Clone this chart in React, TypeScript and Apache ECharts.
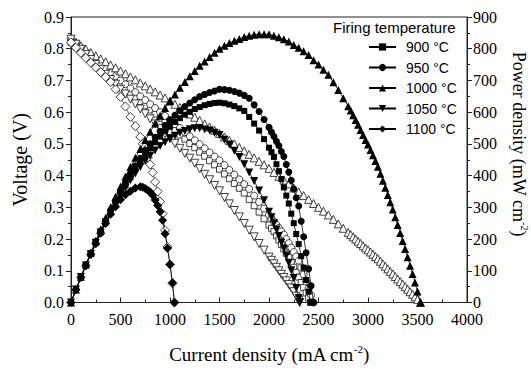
import React, { useEffect, useRef } from 'react';
import * as echarts from 'echarts';

// Current density (mA cm-2) and cell voltage (V), per firing temperature
const current900 = [
  0, 50, 100, 150, 200, 250, 300, 350, 400, 450,
  500, 550, 600, 650, 700, 750, 800, 850, 900, 950,
  1000, 1050, 1100, 1150, 1200, 1250, 1300, 1350, 1400, 1450,
  1500, 1550, 1600, 1650, 1700, 1750, 1800, 1850, 1900, 1950,
  2000, 2025, 2050, 2075, 2100, 2125, 2150, 2175, 2200, 2225,
  2250, 2275, 2300, 2325, 2350, 2375, 2400, 2420,
];
const voltage900 = [
  0.820, 0.806, 0.792, 0.778, 0.764, 0.750, 0.737, 0.724, 0.711, 0.698,
  0.685, 0.672, 0.659, 0.646, 0.633, 0.620, 0.607, 0.594, 0.581, 0.568,
  0.555, 0.542, 0.528, 0.515, 0.501, 0.488, 0.474, 0.461, 0.447, 0.434,
  0.420, 0.405, 0.390, 0.375, 0.360, 0.345, 0.325, 0.305, 0.285, 0.264,
  0.244, 0.234, 0.224, 0.210, 0.197, 0.183, 0.169, 0.155, 0.142, 0.126,
  0.111, 0.095, 0.080, 0.063, 0.047, 0.030, 0.014, 0.000,
];

const current950 = [
  0, 50, 100, 150, 200, 250, 300, 350, 400, 450,
  500, 550, 600, 650, 700, 750, 800, 850, 900, 950,
  1000, 1050, 1100, 1150, 1200, 1250, 1300, 1350, 1400, 1450,
  1500, 1550, 1600, 1650, 1700, 1750, 1800, 1850, 1900, 1950,
  2000, 2025, 2050, 2075, 2100, 2125, 2150, 2175, 2200, 2225,
  2250, 2275, 2300, 2325, 2350, 2375, 2400, 2425, 2450,
];
const voltage950 = [
  0.830, 0.817, 0.803, 0.790, 0.776, 0.763, 0.750, 0.738, 0.725, 0.713,
  0.700, 0.688, 0.675, 0.663, 0.650, 0.638, 0.625, 0.613, 0.600, 0.588,
  0.575, 0.562, 0.550, 0.537, 0.524, 0.511, 0.499, 0.486, 0.473, 0.460,
  0.448, 0.433, 0.418, 0.403, 0.388, 0.373, 0.358, 0.337, 0.317, 0.296,
  0.276, 0.265, 0.255, 0.245, 0.235, 0.224, 0.214, 0.200, 0.187, 0.173,
  0.159, 0.145, 0.132, 0.110, 0.088, 0.066, 0.044, 0.022, 0.000,
];

const current1000 = [
  0, 50, 100, 150, 200, 250, 300, 350, 400, 450,
  500, 550, 600, 650, 700, 750, 800, 850, 900, 950,
  1000, 1050, 1100, 1150, 1200, 1250, 1300, 1350, 1400, 1450,
  1500, 1550, 1600, 1650, 1700, 1750, 1800, 1850, 1900, 1950,
  2000, 2050, 2100, 2150, 2200, 2250, 2300, 2350, 2400, 2450,
  2500, 2550, 2600, 2650, 2700, 2750, 2800, 2825, 2850, 2875,
  2900, 2925, 2950, 2975, 3000, 3025, 3050, 3075, 3100, 3125,
  3150, 3175, 3200, 3225, 3250, 3275, 3300, 3325, 3350, 3375,
  3400, 3425, 3450, 3475, 3500, 3530,
];
const voltage1000 = [
  0.830, 0.820, 0.809, 0.799, 0.788, 0.778, 0.768, 0.759, 0.749, 0.740,
  0.730, 0.721, 0.711, 0.702, 0.692, 0.683, 0.673, 0.664, 0.654, 0.645,
  0.635, 0.625, 0.615, 0.604, 0.594, 0.584, 0.574, 0.563, 0.553, 0.543,
  0.533, 0.522, 0.511, 0.500, 0.489, 0.478, 0.467, 0.456, 0.445, 0.434,
  0.423, 0.410, 0.398, 0.386, 0.374, 0.361, 0.349, 0.337, 0.325, 0.312,
  0.300, 0.288, 0.276, 0.262, 0.248, 0.234, 0.221, 0.214, 0.207, 0.200,
  0.193, 0.186, 0.179, 0.172, 0.166, 0.159, 0.152, 0.145, 0.138, 0.130,
  0.122, 0.114, 0.106, 0.098, 0.090, 0.082, 0.074, 0.066, 0.058, 0.050,
  0.042, 0.034, 0.026, 0.018, 0.010, 0.000,
];

const current1050 = [
  0, 50, 100, 150, 200, 250, 300, 350, 400, 450,
  500, 550, 600, 650, 700, 750, 800, 850, 900, 950,
  1000, 1050, 1100, 1150, 1200, 1250, 1300, 1350, 1400, 1450,
  1500, 1550, 1600, 1650, 1700, 1750, 1800, 1850, 1900, 1950,
  2000, 2025, 2050, 2075, 2100, 2125, 2150, 2175, 2200, 2225,
  2250, 2275, 2300, 2310,
];
const voltage1050 = [
  0.830, 0.814, 0.798, 0.782, 0.766, 0.750, 0.735, 0.719, 0.703, 0.688,
  0.672, 0.657, 0.641, 0.626, 0.610, 0.595, 0.579, 0.563, 0.548, 0.532,
  0.517, 0.501, 0.486, 0.470, 0.455, 0.439, 0.422, 0.404, 0.387, 0.369,
  0.352, 0.331, 0.311, 0.290, 0.270, 0.249, 0.228, 0.207, 0.186, 0.165,
  0.143, 0.133, 0.122, 0.111, 0.100, 0.089, 0.079, 0.068, 0.057, 0.046,
  0.034, 0.020, 0.006, 0.000,
];

const current1100 = [
  0, 50, 100, 150, 200, 250, 300, 350, 400, 450,
  500, 550, 600, 650, 700, 725, 750, 775, 800, 825,
  850, 875, 900, 925, 950, 975, 1000, 1025, 1045,
];
const voltage1100 = [
  0.820, 0.803, 0.787, 0.771, 0.756, 0.741, 0.726, 0.711, 0.695, 0.672,
  0.648, 0.618, 0.585, 0.556, 0.522, 0.500, 0.478, 0.457, 0.435, 0.410,
  0.380, 0.350, 0.318, 0.280, 0.228, 0.175, 0.120, 0.060, 0.000,
];

const temperatures = ['900 °C', '950 °C', '1000 °C', '1050 °C', '1100 °C'];
const currents = [current900, current950, current1000, current1050, current1100];
const voltages = [voltage900, voltage950, voltage1000, voltage1050, voltage1100];

const xTickInterval = 500;
const xMax = 4000;
const vMax = 0.9;
const vInterval = 0.1;
const pMax = 900;
const pInterval = 100;

const symbols = ['rect', 'circle', 'triangle', 'triangle', 'diamond'];
const symbolRotations = [0, 0, 0, 180, 0];
const symbolSizes = [6, 7, 8, 8, 9];

const SERIF = 'Liberation Serif';
const SANS = 'Liberation Sans';
const AX = '#222';

export default function App() {
  const ref = useRef<HTMLDivElement>(null);
  useEffect(() => {
    if (!ref.current) return;
    const chart = echarts.init(ref.current, null, { renderer: 'svg' });

    const voltageSeries = temperatures.map((t, k) => ({
      name: t + ' voltage',
      type: 'line',
      yAxisIndex: 0,
      data: currents[k].map((c, i) => [c, voltages[k][i]]),
      symbol: symbols[k],
      symbolRotate: symbolRotations[k],
      symbolSize: symbolSizes[k],
      itemStyle: { color: '#fff', borderColor: '#111', borderWidth: 0.8 },
      lineStyle: { color: '#111', width: 0.6 },
      z: 2,
      silent: true,
    }));

    // Power density (mW cm-2) = current density (mA cm-2) x voltage (V)
    const powerSeries = temperatures.map((t, k) => ({
      name: t,
      type: 'line',
      yAxisIndex: 1,
      data: currents[k].map((c, i) => [c, Math.round(c * voltages[k][i])]),
      symbol: symbols[k],
      symbolRotate: symbolRotations[k],
      symbolSize: symbolSizes[k],
      itemStyle: { color: '#000', borderColor: '#000', borderWidth: 0 },
      lineStyle: { color: '#000', width: 0.8 },
      z: 3,
      silent: true,
    }));

    const tickLabel = { color: '#000', fontFamily: SERIF, fontSize: 16 };

    const option: any = {
      animation: false,
      backgroundColor: '#fff',
      grid: {
        left: 71, right: 64, top: 17, bottom: 60,
        show: true, borderColor: AX, borderWidth: 1, backgroundColor: 'transparent',
      },
      legend: {
        data: temperatures,
        orient: 'vertical',
        left: 363,
        top: 35,
        padding: 5,
        itemWidth: 27,
        itemHeight: 9,
        itemGap: 6.5,
        selectedMode: false,
        textStyle: { fontFamily: SANS, fontSize: 14, color: '#000', lineHeight: 14, padding: [0, 0, 0, 5] },
      },
      graphic: [
        {
          type: 'text',
          left: 333,
          top: 20,
          style: { text: 'Firing temperature', font: '15px "Liberation Sans"', fill: '#000' },
        },
        {
          type: 'text',
          x: 519,
          y: 144,
          rotation: -Math.PI / 2,
          style: {
            text: '{a|Power density (mW cm}{s|-2}{a|)}',
            align: 'center',
            verticalAlign: 'middle',
            textAlign: 'center',
            textVerticalAlign: 'middle',
            fill: '#000',
            rich: {
              a: { fontFamily: SERIF, fontSize: 18, fill: '#000', lineHeight: 21 },
              s: { fontFamily: SERIF, fontSize: 10, fill: '#000', verticalAlign: 'top', lineHeight: 10 },
            },
          },
        },
      ],
      xAxis: {
        type: 'value',
        min: 0,
        max: xMax,
        interval: xTickInterval,
        axisLine: { show: true, lineStyle: { color: AX, width: 1 } },
        splitLine: { show: false },
        axisTick: { show: true, inside: true, length: 5, lineStyle: { color: AX } },
        minorTick: { show: true, splitNumber: 2, length: 3, lineStyle: { color: AX } },
        axisLabel: { ...tickLabel, margin: 9, formatter: (v: number) => String(v) },
        name: '{a|Current density (mA cm}{s|-2}{a|)}',
        nameLocation: 'middle',
        nameGap: 41,
        nameTextStyle: {
          rich: {
            a: { fontFamily: SERIF, fontSize: 19, color: '#000', lineHeight: 22 },
            s: { fontFamily: SERIF, fontSize: 11, color: '#000', verticalAlign: 'top', lineHeight: 11 },
          },
        },
      },
      yAxis: [
        {
          type: 'value',
          position: 'left',
          min: 0,
          max: vMax,
          interval: vInterval,
          axisLine: { show: true, lineStyle: { color: AX, width: 1 } },
          splitLine: { show: false },
          axisTick: { show: true, inside: false, length: 5, lineStyle: { color: AX } },
          minorTick: { show: true, splitNumber: 2, length: 3, lineStyle: { color: AX } },
          axisLabel: { ...tickLabel, margin: 7, formatter: (v: number) => v.toFixed(1) },
          name: 'Voltage (V)',
          nameLocation: 'middle',
          nameRotate: 90,
          nameGap: 41,
          nameTextStyle: { fontFamily: SERIF, fontSize: 20, color: '#000' },
        },
        {
          type: 'value',
          position: 'right',
          min: 0,
          max: pMax,
          interval: pInterval,
          axisLine: { show: true, lineStyle: { color: AX, width: 1 } },
          splitLine: { show: false },
          axisTick: { show: true, inside: false, length: 5, lineStyle: { color: AX } },
          minorTick: { show: true, splitNumber: 2, length: 3, lineStyle: { color: AX } },
          axisLabel: { ...tickLabel, margin: 6, formatter: (v: number) => String(v) },
        },
      ],
      series: [...voltageSeries, ...powerSeries],
    };

    chart.setOption(option);
    return () => chart.dispose();
  }, []);

  return (
    <div
      ref={ref}
      style={{ position: 'fixed', left: 0, top: 0, width: 531, height: 369, background: '#fff' }}
    />
  );
}
